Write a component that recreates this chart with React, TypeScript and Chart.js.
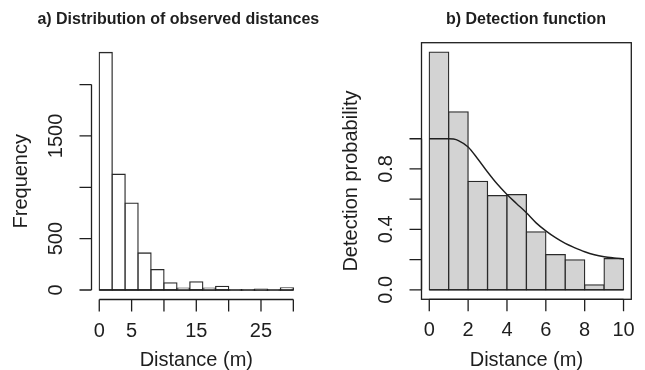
import React, { useEffect, useRef } from 'react';
import { Chart, registerables } from 'chart.js';

Chart.register(...registerables);

// ---------- Panel a: distribution of observed distances ----------
const distBinWidth = 2;
const distBinStarts = [0, 2, 4, 6, 8, 10, 12, 14, 16, 18, 20, 22, 24, 26, 28];
const distCounts = [2312, 1127, 845, 360, 198, 70, 18, 80, 18, 35, 3, 2, 8, 2, 20];
const distXTicks = [0, 5, 10, 15, 20, 25, 30];
const distXLabels = ['0', '5', '', '15', '', '25', ''];
const distYTicks = [0, 500, 1000, 1500, 2000];
const distYLabels = ['0', '500', '', '1500', ''];

// ---------- Panel b: detection function ----------
const detBinWidth = 1;
const detBinStarts = [0, 1, 2, 3, 4, 5, 6, 7, 8, 9];
const detHeights = [1.573, 1.178, 0.718, 0.623, 0.63, 0.383, 0.233, 0.198, 0.033, 0.207];
const curveX = [0, 0.5, 1, 1.25, 1.5, 2, 2.5, 3, 3.5, 4, 4.5, 5, 5.5, 6, 6.5, 7, 7.5, 8, 8.5, 9, 9.5, 10];
const curveY = [1.0, 1.0, 1.0, 0.998, 0.988, 0.946, 0.866, 0.78, 0.70, 0.631, 0.57, 0.51, 0.443, 0.39, 0.345, 0.307, 0.278, 0.252, 0.232, 0.219, 0.211, 0.205];
const detXTicks = [0, 2, 4, 6, 8, 10];
const detXLabels = ['0', '2', '4', '6', '8', '10'];
const detYTicks = [0, 0.2, 0.4, 0.6, 0.8, 1.0];
const detYLabels = ['0.0', '', '0.4', '', '0.8', ''];

const FONT = '"Liberation Sans", Arial, Helvetica, sans-serif';
const INK = '#1e1e1e';

type PanelCfg = {
  title: string;
  titleX: number;
  xTitle: string;
  yTitle: string;
  xTicks: number[];
  xLabels: string[];
  yTicks: number[];
  yLabels: string[];
  box: boolean;
  baseline: [number, number];
};

function rPanelPlugin(cfg: PanelCfg) {
  return {
    id: 'rPanel',
    afterDraw(chart: any) {
      const ctx: CanvasRenderingContext2D = chart.ctx;
      const xs = chart.scales.x;
      const ys = chart.scales.y;
      const a = chart.chartArea;
      ctx.save();
      ctx.strokeStyle = INK;
      ctx.fillStyle = INK;
      ctx.lineWidth = 1.3;

      // baseline of histogram bars
      ctx.beginPath();
      ctx.moveTo(xs.getPixelForValue(cfg.baseline[0]), ys.getPixelForValue(0));
      ctx.lineTo(xs.getPixelForValue(cfg.baseline[1]), ys.getPixelForValue(0));
      ctx.stroke();

      if (cfg.box) {
        ctx.strokeRect(a.left, a.top, a.right - a.left, a.bottom - a.top);
      }

      // y axis
      const y0 = ys.getPixelForValue(cfg.yTicks[0]);
      const y1 = ys.getPixelForValue(cfg.yTicks[cfg.yTicks.length - 1]);
      ctx.beginPath();
      ctx.moveTo(a.left, y0);
      ctx.lineTo(a.left, y1);
      cfg.yTicks.forEach((t) => {
        const py = ys.getPixelForValue(t);
        ctx.moveTo(a.left, py);
        ctx.lineTo(a.left - 12, py);
      });
      ctx.stroke();
      ctx.font = `20px ${FONT}`;
      ctx.textAlign = 'center';
      ctx.textBaseline = 'alphabetic';
      cfg.yTicks.forEach((t, i) => {
        const lab = cfg.yLabels[i];
        if (!lab) return;
        const py = ys.getPixelForValue(t);
        ctx.save();
        ctx.translate(a.left - 30, py);
        ctx.rotate(-Math.PI / 2);
        ctx.fillText(lab, 0, 0);
        ctx.restore();
      });

      // x axis
      const x0 = xs.getPixelForValue(cfg.xTicks[0]);
      const x1 = xs.getPixelForValue(cfg.xTicks[cfg.xTicks.length - 1]);
      ctx.beginPath();
      ctx.moveTo(x0, a.bottom);
      ctx.lineTo(x1, a.bottom);
      cfg.xTicks.forEach((t) => {
        const px = xs.getPixelForValue(t);
        ctx.moveTo(px, a.bottom);
        ctx.lineTo(px, a.bottom + 12);
      });
      ctx.stroke();
      cfg.xTicks.forEach((t, i) => {
        const lab = cfg.xLabels[i];
        if (!lab) return;
        ctx.fillText(lab, xs.getPixelForValue(t), a.bottom + 37);
      });

      // axis titles
      const cx = (a.left + a.right) / 2;
      const cy = (a.top + a.bottom) / 2 + 10;
      ctx.fillText(cfg.xTitle, cx, a.bottom + 66.5);
      ctx.save();
      ctx.translate(a.left - 64.2, cy);
      ctx.rotate(-Math.PI / 2);
      ctx.fillText(cfg.yTitle, 0, 0);
      ctx.restore();

      // main title
      ctx.font = `bold 16px ${FONT}`;
      ctx.fillText(cfg.title, cfg.titleX, 24);
      ctx.restore();
    },
  };
}

function padRange(lo: number, hi: number): [number, number] {
  const d = (hi - lo) * 0.04;
  return [lo - d, hi + d];
}

export default function App() {
  const refA = useRef<HTMLCanvasElement>(null);
  const refB = useRef<HTMLCanvasElement>(null);

  useEffect(() => {
    if (!refA.current || !refB.current) return;

    const [axMin, axMax] = padRange(distBinStarts[0], distBinStarts[distBinStarts.length - 1] + distBinWidth);
    const [ayMin, ayMax] = padRange(0, Math.max(...distCounts));

    const chartA = new Chart(refA.current, {
      type: 'bar',
      data: {
        datasets: [
          {
            data: distBinStarts.map((s, i) => ({ x: s + distBinWidth / 2, y: distCounts[i] })),
            backgroundColor: '#ffffff',
            borderColor: '#2a2a2a',
            borderWidth: 1.3,
            borderSkipped: false,
            inflateAmount: 0.65,
            barPercentage: 1,
            categoryPercentage: 1,
          } as any,
        ],
      },
      options: {
        animation: false,
        responsive: false,
        events: [],
        layout: { padding: { left: 91.5, right: 645 - 301.1, top: 43, bottom: 370 - 299.5 } },
        plugins: { legend: { display: false }, tooltip: { enabled: false }, title: { display: false } },
        scales: {
          x: {
            type: 'linear', display: false, offset: false, bounds: 'data',
            min: axMin, max: axMax,
            ticks: { stepSize: distBinWidth, includeBounds: false } as any,
          },
          y: { type: 'linear', display: false, bounds: 'data', min: ayMin, max: ayMax },
        },
      },
      plugins: [
        rPanelPlugin({
          title: 'a) Distribution of observed distances',
          titleX: 178.3,
          xTitle: 'Distance (m)',
          yTitle: 'Frequency',
          xTicks: distXTicks,
          xLabels: distXLabels,
          yTicks: distYTicks,
          yLabels: distYLabels,
          box: false,
          baseline: [distBinStarts[0], distBinStarts[distBinStarts.length - 1] + distBinWidth],
        }),
      ],
    });

    const [bxMin, bxMax] = padRange(detBinStarts[0], detBinStarts[detBinStarts.length - 1] + detBinWidth);
    const [byMin, byMax] = padRange(0, Math.max(...detHeights));

    const chartB = new Chart(refB.current, {
      type: 'bar',
      data: {
        datasets: [
          {
            type: 'line',
            data: curveX.map((x, i) => ({ x, y: curveY[i] })),
            borderColor: '#1e1e1e',
            borderWidth: 1.4,
            pointRadius: 0,
            fill: false,
            cubicInterpolationMode: 'monotone',
            order: 0,
          } as any,
          {
            type: 'bar',
            data: detBinStarts.map((s, i) => ({ x: s + detBinWidth / 2, y: detHeights[i] })),
            backgroundColor: '#d3d3d3',
            borderColor: '#2a2a2a',
            borderWidth: 1.3,
            borderSkipped: false,
            inflateAmount: 0.65,
            barPercentage: 1,
            categoryPercentage: 1,
            order: 1,
          } as any,
        ],
      },
      options: {
        animation: false,
        responsive: false,
        events: [],
        layout: { padding: { left: 421.5, right: 645 - 631.3, top: 42.7, bottom: 370 - 299.3 } },
        plugins: { legend: { display: false }, tooltip: { enabled: false }, title: { display: false } },
        scales: {
          x: {
            type: 'linear', display: false, offset: false, bounds: 'data',
            min: bxMin, max: bxMax,
            ticks: { stepSize: detBinWidth, includeBounds: false } as any,
          },
          y: { type: 'linear', display: false, bounds: 'data', min: byMin, max: byMax },
        },
      },
      plugins: [
        rPanelPlugin({
          title: 'b) Detection function',
          titleX: 526,
          xTitle: 'Distance (m)',
          yTitle: 'Detection probability',
          xTicks: detXTicks,
          xLabels: detXLabels,
          yTicks: detYTicks,
          yLabels: detYLabels,
          box: true,
          baseline: [detBinStarts[0], detBinStarts[detBinStarts.length - 1] + detBinWidth],
        }),
      ],
    });

    return () => {
      chartA.destroy();
      chartB.destroy();
    };
  }, []);

  const canvasStyle: React.CSSProperties = { position: 'absolute', left: 0, top: 0, width: 645, height: 370 };
  return (
    <div style={{ position: 'fixed', left: 0, top: 0, width: 645, height: 370, background: '#ffffff' }}>
      <canvas ref={refA} width={645} height={370} style={canvasStyle} />
      <canvas ref={refB} width={645} height={370} style={canvasStyle} />
    </div>
  );
}
